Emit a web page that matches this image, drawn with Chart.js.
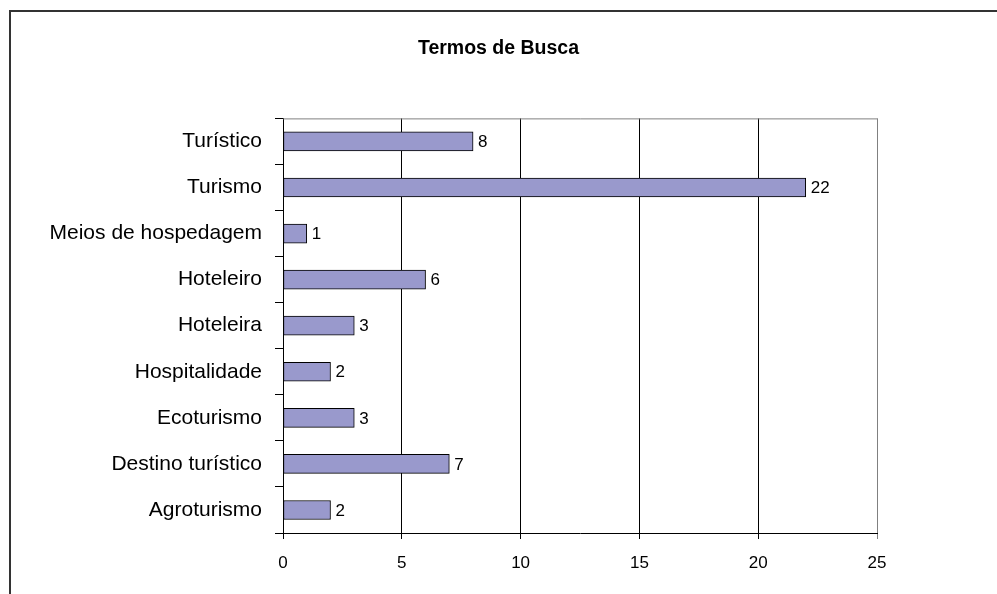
<!DOCTYPE html>
<html>
<head>
<meta charset="utf-8">
<script src="https://cdn.jsdelivr.net/npm/chart.js@4.4.1/dist/chart.umd.min.js"></script>
<style>
  body { margin: 0; background: #fff; }
  #wrap { width: 997px; height: 594px; position: relative; }
</style>
</head>
<body>
<div id="wrap"><canvas id="chart" width="997" height="594"></canvas></div>
<script>
const categories = ['Turístico', 'Turismo', 'Meios de hospedagem', 'Hoteleiro', 'Hoteleira',
    'Hospitalidade', 'Ecoturismo', 'Destino turístico', 'Agroturismo'];
const counts = [8, 22, 1, 6, 3, 2, 3, 7, 2];
const xTicks = [0, 5, 10, 15, 20, 25];

const FONT = '"Liberation Sans", Arial, sans-serif';

// outer frame and top plot border
const framePlugin = {
    id: 'frame',
    beforeDraw(chart) {
        const c = chart.ctx;
        c.save();
        c.strokeStyle = '#333';
        c.lineWidth = 2;
        c.beginPath();
        c.moveTo(10, 594);
        c.lineTo(10, 11);
        c.lineTo(997, 11);
        c.stroke();
        c.restore();
    },
    afterDraw(chart) {
        const a = chart.chartArea;
        const c = chart.ctx;
        c.save();
        c.strokeStyle = '#808080';
        c.lineWidth = 1;
        c.beginPath();
        c.moveTo(a.left, a.top + 0.5);
        c.lineTo(a.right + 0.5, a.top + 0.5);
        c.stroke();
        c.restore();
    }
};

// value labels next to each bar
const valueLabels = {
    id: 'valueLabels',
    afterDatasetsDraw(chart) {
        const c = chart.ctx;
        const meta = chart.getDatasetMeta(0);
        c.save();
        c.font = '17px ' + FONT;
        c.fillStyle = '#000';
        c.textAlign = 'left';
        c.textBaseline = 'middle';
        meta.data.forEach((bar, i) => {
            c.fillText(String(counts[i]), bar.x + 5, bar.y + 1);
        });
        c.restore();
    }
};

const ctx = document.getElementById('chart').getContext('2d');
new Chart(ctx, {
    type: 'bar',
    data: {
        labels: categories,
        datasets: [{
            data: counts,
            backgroundColor: '#9999cc',
            borderColor: '#000',
            borderWidth: 1,
            borderSkipped: false,
            barThickness: 19
        }]
    },
    options: {
        indexAxis: 'y',
        responsive: false,
        animation: false,
        layout: { padding: { left: 10, right: 10, top: 0, bottom: 0 } },
        plugins: {
            legend: { display: false },
            tooltip: { enabled: false },
            title: {
                display: true,
                text: 'Termos de Busca',
                color: '#000',
                font: { family: FONT, size: 19.5, weight: 'bold', lineHeight: 1.2 },
                padding: { top: 37, bottom: 58 }
            }
        },
        scales: {
            x: {
                min: 0,
                max: 25,
                afterBuildTicks(scale) {
                    scale.ticks = xTicks.map(v => ({ value: v }));
                },
                afterFit(scale) { scale.height = 61; },
                grid: {
                    color: c => (c.tick && c.tick.value === 25) ? '#808080' : '#000',
                    lineWidth: 1,
                    tickLength: 6,
                    drawTicks: true
                },
                border: { color: '#000', width: 1 },
                ticks: {
                    color: '#000',
                    padding: 14,
                    font: { family: FONT, size: 17 }
                }
            },
            y: {
                afterFit(scale) { scale.width = 273; },
                grid: {
                    offset: true,
                    drawOnChartArea: false,
                    tickLength: 8,
                    color: '#000'
                },
                border: { color: '#000', width: 1 },
                ticks: {
                    color: '#000',
                    padding: 13,
                    font: { family: FONT, size: 21 }
                }
            },
            // empty spacer on the right so the title centres over the whole frame
            yRight: {
                type: 'category',
                position: 'right',
                afterFit(scale) { scale.width = 110; },
                grid: { display: false },
                border: { display: false },
                ticks: { display: false }
            }
        }
    },
    plugins: [framePlugin, valueLabels]
});
</script>
</body>
</html>
